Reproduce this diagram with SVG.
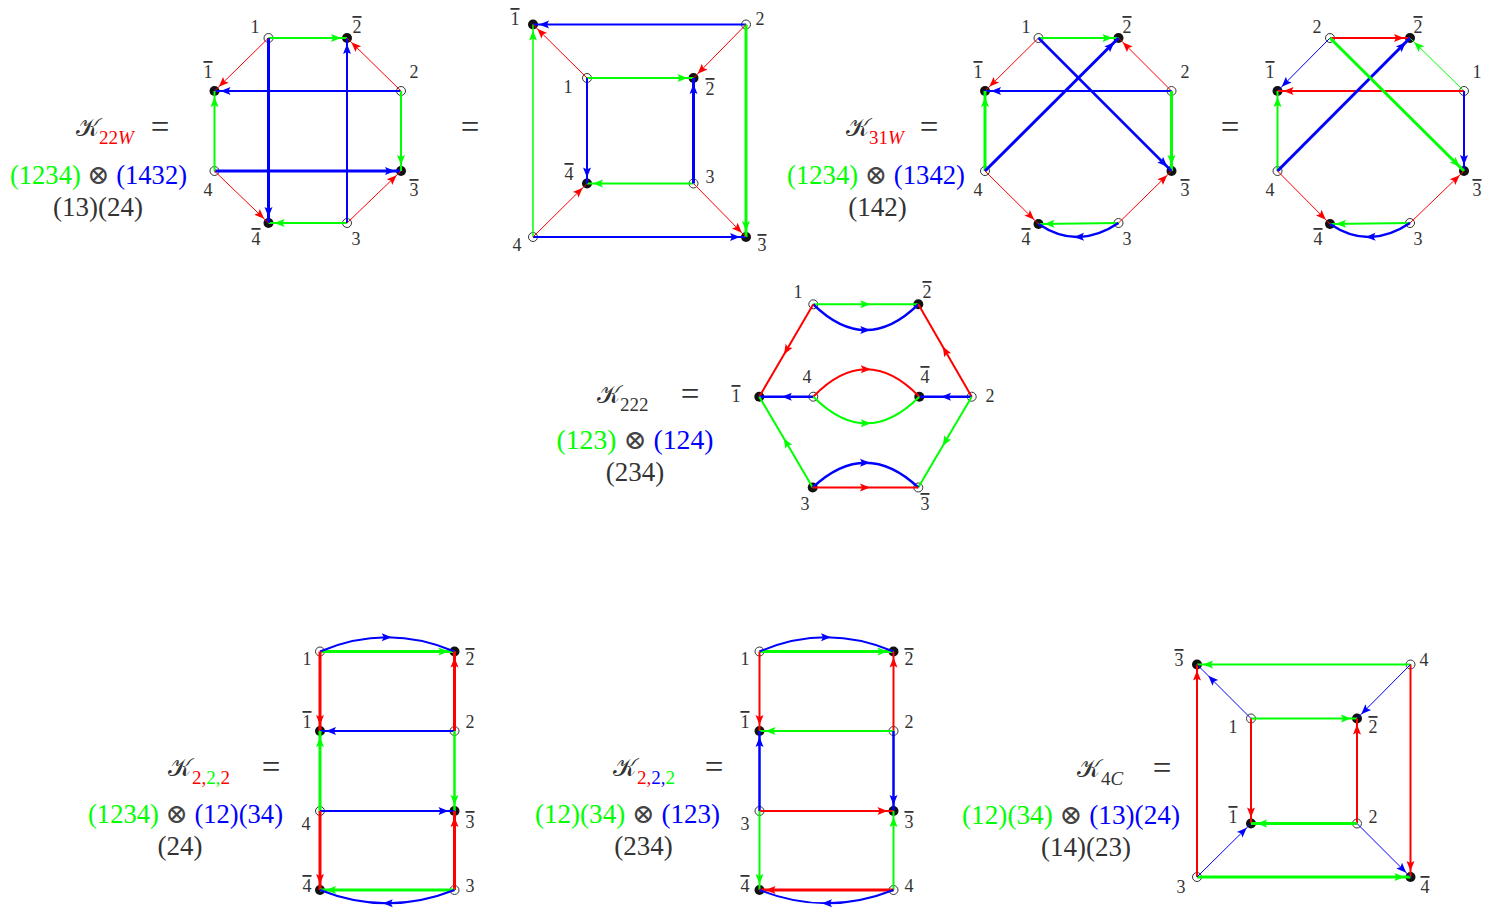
<svg xmlns="http://www.w3.org/2000/svg" width="1499" height="909" viewBox="0 0 1499 909">
<style>
.n{font-family:"Liberation Serif","DejaVu Serif",serif;font-size:18px;fill:#333;text-anchor:middle}
.ov{text-decoration:overline}
.t{font-family:"Liberation Serif","DejaVu Serif","DejaVu Sans",serif;font-size:27px;fill:#333}
.k{font-family:"Liberation Serif","DejaVu Serif","DejaVu Sans",serif;font-size:25px;fill:#333}
.eq{font-family:"Liberation Serif","DejaVu Serif",serif;font-size:33px;fill:#333;text-anchor:middle}
.s{font-family:"Liberation Serif","DejaVu Serif",serif;font-size:19px;fill:#333}
.m{text-anchor:middle}
.x{fill:#444}
.o{fill:#fff;stroke:#333;stroke-width:1}
.f{fill:#111}
.r,.g,.b,.re,.ge,.be,.rm,.gm,.bm{fill:none}
.r{stroke:#f00}.g{stroke:#0f0}.b{stroke:#00f}
.re{stroke:#f00;marker-end:url(#er)}.ge{stroke:#0f0;marker-end:url(#ger)}.be{stroke:#00f;marker-end:url(#ber)}
.rm{stroke:#f00;marker-mid:url(#mr)}.gm{stroke:#0f0;marker-mid:url(#mg)}.bm{stroke:#00f;marker-mid:url(#mb)}
.w1{stroke-width:1}.w15{stroke-width:1.5}.w2{stroke-width:2}.w25{stroke-width:2.5}.w3{stroke-width:3}
.cr{fill:#f00}.cg{fill:#0f0}.cb{fill:#00f}
</style>
<defs>
<path id="ah" d="M0,0 L10,4 L0,8 L2,4 Z"/>
<marker id="er" markerUnits="userSpaceOnUse" markerWidth="10" markerHeight="8" refX="16" refY="4" orient="auto" overflow="visible"><use href="#ah" fill="#f00"/></marker>
<marker id="ger" markerUnits="userSpaceOnUse" markerWidth="10" markerHeight="8" refX="16" refY="4" orient="auto" overflow="visible"><use href="#ah" fill="#0f0"/></marker>
<marker id="ber" markerUnits="userSpaceOnUse" markerWidth="10" markerHeight="8" refX="16" refY="4" orient="auto" overflow="visible"><use href="#ah" fill="#00f"/></marker>
<marker id="bfar" markerUnits="userSpaceOnUse" markerWidth="10" markerHeight="8" refX="26" refY="4" orient="auto" overflow="visible"><use href="#ah" fill="#00f"/></marker>
<marker id="mr" markerUnits="userSpaceOnUse" markerWidth="10" markerHeight="8" refX="5.5" refY="4" orient="auto" overflow="visible"><use href="#ah" fill="#f00"/></marker>
<marker id="mg" markerUnits="userSpaceOnUse" markerWidth="10" markerHeight="8" refX="5.5" refY="4" orient="auto" overflow="visible"><use href="#ah" fill="#0f0"/></marker>
<marker id="mb" markerUnits="userSpaceOnUse" markerWidth="10" markerHeight="8" refX="5.5" refY="4" orient="auto" overflow="visible"><use href="#ah" fill="#00f"/></marker>
</defs>
<rect width="1499" height="909" fill="#fff"/>

<!-- ===== Panel 1: K22W ===== -->
<g id="p1-formula">
<text class="k" x="76" y="136">𝒦</text><text class="s" x="99" y="144" style="fill:#f00">22<tspan font-style="italic">W</tspan></text>
<text class="eq" x="160" y="138">=</text>
<text class="t m" x="98.5" y="184" textLength="177" lengthAdjust="spacingAndGlyphs"><tspan class="cg">(1234)</tspan><tspan class="x"> ⊗ </tspan><tspan class="cb">(1432)</tspan></text>
<text class="t m" x="98" y="216">(13)(24)</text>
</g>
<g id="p1-n1"><circle class="o" cx="268.5" cy="38" r="4.5"/><text class="n" x="255" y="33">1</text></g>
<g id="p1-n2b"><circle class="f" cx="347" cy="38" r="5"/><text class="n ov" x="357" y="33">2</text></g>
<g id="p1-n1b"><circle class="f" cx="214.5" cy="91" r="5"/><text class="n ov" x="208" y="78">1</text></g>
<g id="p1-n2"><circle class="o" cx="401" cy="91" r="4.5"/><text class="n" x="414" y="78">2</text></g>
<g id="p1-n4"><circle class="o" cx="214.5" cy="171" r="4.5"/><text class="n" x="208" y="196">4</text></g>
<g id="p1-n3b"><circle class="f" cx="401" cy="171" r="5"/><text class="n ov" x="414" y="196">3</text></g>
<g id="p1-n4b"><circle class="f" cx="268.5" cy="223" r="5"/><text class="n ov" x="256" y="245">4</text></g>
<g id="p1-n3"><circle class="o" cx="347" cy="223" r="4.5"/><text class="n" x="356" y="245">3</text></g>
<g id="p1-edges">
<line class="ge w2" x1="268.5" y1="38" x2="347" y2="38"/>
<line class="be w2" x1="401" y1="91" x2="214.5" y2="91"/>
<line class="be w3" x1="214.5" y1="171" x2="401" y2="171"/>
<line class="ge w2" x1="347" y1="223" x2="268.5" y2="223"/>
<line class="be w3" x1="268.5" y1="38" x2="268.5" y2="223"/>
<line class="be w2" x1="347" y1="223" x2="347" y2="38"/>
<line class="re w1" x1="268.5" y1="38" x2="214.5" y2="91"/>
<line class="re w1" x1="401" y1="91" x2="347" y2="38"/>
<line class="ge w2" x1="401" y1="91" x2="401" y2="171"/>
<line class="ge w2" x1="214.5" y1="171" x2="214.5" y2="91"/>
<line class="re w1" x1="214.5" y1="171" x2="268.5" y2="223"/>
<line class="re w1" x1="347" y1="223" x2="401" y2="171"/>
</g>

<text class="eq" x="470" y="138">=</text>

<!-- ===== Panel 2 ===== -->
<g id="p2-n1b"><circle class="f" cx="533" cy="24.5" r="5"/><text class="n ov" x="515" y="25">1</text></g>
<g id="p2-n2"><circle class="o" cx="746" cy="24.5" r="4.5"/><text class="n" x="760" y="25">2</text></g>
<g id="p2-n1"><circle class="o" cx="587" cy="78" r="4.5"/><text class="n" x="568" y="93">1</text></g>
<g id="p2-n2b"><circle class="f" cx="693.5" cy="78" r="5"/><text class="n ov" x="710" y="95">2</text></g>
<g id="p2-n4b"><circle class="f" cx="587" cy="183.5" r="5"/><text class="n ov" x="569" y="180">4</text></g>
<g id="p2-n3"><circle class="o" cx="693.5" cy="183.5" r="4.5"/><text class="n" x="710" y="183">3</text></g>
<g id="p2-n4"><circle class="o" cx="533" cy="237" r="4.5"/><text class="n" x="517" y="251">4</text></g>
<g id="p2-n3b"><circle class="f" cx="746" cy="237" r="5"/><text class="n ov" x="762" y="251">3</text></g>
<g id="p2-edges">
<line class="be w2" x1="746" y1="24.5" x2="533" y2="24.5"/>
<line class="be w2" x1="533" y1="237" x2="746" y2="237"/>
<line class="ge w15" x1="533" y1="237" x2="533" y2="24.5"/>
<line class="ge w3" x1="746" y1="24.5" x2="746" y2="237"/>
<line class="re w1" x1="587" y1="78" x2="533" y2="24.5"/>
<line class="re w1" x1="746" y1="24.5" x2="693.5" y2="78"/>
<line class="re w1" x1="533" y1="237" x2="587" y2="183.5"/>
<line class="re w1" x1="693.5" y1="183.5" x2="746" y2="237"/>
<line class="ge w2" x1="587" y1="78" x2="693.5" y2="78"/>
<line class="ge w2" x1="693.5" y1="183.5" x2="587" y2="183.5"/>
<line class="be w2" x1="587" y1="78" x2="587" y2="183.5"/>
<line class="be w3" x1="693.5" y1="183.5" x2="693.5" y2="78"/>
</g>

<!-- ===== Panel 3: K31W ===== -->
<g id="p3-formula">
<text class="k" x="846" y="136">𝒦</text><text class="s" x="869" y="144" style="fill:#f00">31<tspan font-style="italic">W</tspan></text>
<text class="eq" x="929" y="138">=</text>
<text class="t m" x="876" y="184" textLength="178" lengthAdjust="spacingAndGlyphs"><tspan class="cg">(1234)</tspan><tspan class="x"> ⊗ </tspan><tspan class="cb">(1342)</tspan></text>
<text class="t m" x="877.5" y="216">(142)</text>
</g>
<g id="p3-n1"><circle class="o" cx="1038.5" cy="38" r="4.5"/><text class="n" x="1026" y="33">1</text></g>
<g id="p3-n2b"><circle class="f" cx="1118.5" cy="38" r="5"/><text class="n ov" x="1127" y="33">2</text></g>
<g id="p3-n1b"><circle class="f" cx="985" cy="91" r="5"/><text class="n ov" x="978" y="78">1</text></g>
<g id="p3-n2"><circle class="o" cx="1171.5" cy="91" r="4.5"/><text class="n" x="1185" y="78">2</text></g>
<g id="p3-n4"><circle class="o" cx="985" cy="171" r="4.5"/><text class="n" x="978" y="196">4</text></g>
<g id="p3-n3b"><circle class="f" cx="1171.5" cy="171" r="5"/><text class="n ov" x="1185" y="196">3</text></g>
<g id="p3-n4b"><circle class="f" cx="1038.5" cy="224" r="5"/><text class="n ov" x="1026" y="245">4</text></g>
<g id="p3-n3"><circle class="o" cx="1118.5" cy="223" r="4.5"/><text class="n" x="1127" y="245">3</text></g>
<g id="p3-edges">
<line class="ge w2" x1="1038.5" y1="38" x2="1118.5" y2="38"/>
<line class="re w1" x1="1038.5" y1="38" x2="985" y2="91"/>
<line class="re w1" x1="1171.5" y1="91" x2="1118.5" y2="38"/>
<line class="be w2" x1="1171.5" y1="91" x2="985" y2="91"/>
<line class="ge w3" x1="1171.5" y1="91" x2="1171.5" y2="171"/>
<line class="ge w3" x1="985" y1="171" x2="985" y2="91"/>
<line class="be w3" x1="985" y1="171" x2="1118.5" y2="38"/>
<line class="be w25" x1="1038.5" y1="38" x2="1171.5" y2="171"/>
<line class="re w1" x1="985" y1="171" x2="1038.5" y2="224"/>
<line class="re w1" x1="1118.5" y1="223" x2="1171.5" y2="171"/>
<line class="ge w2" x1="1118.5" y1="223" x2="1038.5" y2="224"/>
<path class="bm w25" d="M1118.5,223 Q1098.5,236.5 1078.5,237 Q1058.5,237.5 1038.5,224"/>
</g>

<text class="eq" x="1230" y="138">=</text>

<!-- ===== Panel 4 ===== -->
<g id="p4-n2"><circle class="o" cx="1330" cy="38" r="4.5"/><text class="n" x="1317" y="33">2</text></g>
<g id="p4-n2b"><circle class="f" cx="1410" cy="38" r="5"/><text class="n ov" x="1418" y="33">2</text></g>
<g id="p4-n1b"><circle class="f" cx="1277.5" cy="91" r="5"/><text class="n ov" x="1270" y="78">1</text></g>
<g id="p4-n1"><circle class="o" cx="1464" cy="91" r="4.5"/><text class="n" x="1477" y="78">1</text></g>
<g id="p4-n4"><circle class="o" cx="1277.5" cy="171" r="4.5"/><text class="n" x="1270" y="196">4</text></g>
<g id="p4-n3b"><circle class="f" cx="1464" cy="171" r="5"/><text class="n ov" x="1477" y="196">3</text></g>
<g id="p4-n4b"><circle class="f" cx="1330" cy="224" r="5"/><text class="n ov" x="1318" y="245">4</text></g>
<g id="p4-n3"><circle class="o" cx="1410" cy="223" r="4.5"/><text class="n" x="1418" y="245">3</text></g>
<g id="p4-edges">
<line class="re w2" x1="1330" y1="38" x2="1410" y2="38"/>
<line class="be w1" x1="1330" y1="38" x2="1277.5" y2="91"/>
<line class="ge w1" x1="1464" y1="91" x2="1410" y2="38"/>
<line class="re w2" x1="1464" y1="91" x2="1277.5" y2="91"/>
<line class="be w2" x1="1464" y1="91" x2="1464" y2="171"/>
<line class="ge w2" x1="1277.5" y1="171" x2="1277.5" y2="91"/>
<line class="be w3" x1="1277.5" y1="171" x2="1410" y2="38"/>
<line class="ge w3" x1="1330" y1="38" x2="1464" y2="171"/>
<line class="re w1" x1="1277.5" y1="171" x2="1330" y2="224"/>
<line class="re w1" x1="1410" y1="223" x2="1464" y2="171"/>
<line class="ge w2" x1="1410" y1="223" x2="1330" y2="224"/>
<path class="bm w25" d="M1410,223 Q1390,236.5 1370,237 Q1350,237.5 1330,224"/>
</g>

<!-- ===== Panel 5: K222 ===== -->
<g id="p5-formula">
<text class="k" x="597" y="403">𝒦</text><text class="s" x="620" y="411">222</text>
<text class="eq" x="690" y="405">=</text>
<text class="t m" x="635" y="449" textLength="157" lengthAdjust="spacingAndGlyphs"><tspan class="cg">(123)</tspan><tspan class="x"> ⊗ </tspan><tspan class="cb">(124)</tspan></text>
<text class="t m" x="635" y="481">(234)</text>
</g>
<g id="p5-n1"><circle class="o" cx="813.3" cy="304.3" r="4.5"/><text class="n" x="798" y="298">1</text></g>
<g id="p5-n2b"><circle class="f" cx="918.3" cy="304.3" r="5"/><text class="n ov" x="927" y="298">2</text></g>
<g id="p5-n1b"><circle class="f" cx="759.3" cy="396.7" r="5"/><text class="n ov" x="736" y="402">1</text></g>
<g id="p5-n4"><circle class="o" cx="813.3" cy="396.7" r="4.5"/><text class="n" x="807" y="383">4</text></g>
<g id="p5-n4b"><circle class="f" cx="919.3" cy="396.7" r="5"/><text class="n ov" x="925" y="383">4</text></g>
<g id="p5-n2"><circle class="o" cx="971.7" cy="396.7" r="4.5"/><text class="n" x="990" y="402">2</text></g>
<g id="p5-n3"><circle class="f" cx="812.7" cy="487.5" r="5"/><text class="n" x="805" y="510">3</text></g>
<g id="p5-n3b"><circle class="o" cx="918.3" cy="487.5" r="4.5"/><text class="n ov" x="925" y="510">3</text></g>
<g id="p5-edges">
<path class="gm w2" d="M813.3,304.3 L865.8,304.3 L918.3,304.3"/>
<path class="bm w25" d="M813.3,304.3 Q839.55,330 865.8,330 Q892.05,330 918.3,304.3"/>
<path class="rm w2" d="M813.3,304.3 L786.3,350.5 L759.3,396.7"/>
<path class="rm w2" d="M971.7,396.7 L945,350.5 L918.3,304.3"/>
<path class="bm w25" d="M813.3,396.7 L786.3,396.7 L759.3,396.7"/>
<path class="bm w25" d="M971.7,396.7 L945.5,396.7 L919.3,396.7"/>
<path class="rm w2" d="M813.3,396.7 Q839.8,369.3 866.3,369.3 Q892.8,369.3 919.3,396.7"/>
<path class="gm w2" d="M813.3,396.7 Q839.8,423.3 866.3,423.3 Q892.8,423.3 919.3,396.7"/>
<path class="gm w2" d="M812.7,487.5 L786,442.1 L759.3,396.7"/>
<path class="gm w2" d="M971.7,396.7 L945,442.1 L918.3,487.5"/>
<path class="bm w25" d="M812.7,487.5 Q839.1,462.7 865.5,462.7 Q891.9,462.7 918.3,487.5"/>
<path class="rm w2" d="M812.7,487.5 L865.5,487.5 L918.3,487.5"/>
</g>

<!-- ===== Panel 6: K2,2,2 ===== -->
<g id="p6-formula">
<text class="k" x="168" y="776">𝒦</text><text class="s" x="192" y="784"><tspan class="cr">2,</tspan><tspan class="cg">2,</tspan><tspan class="cr">2</tspan></text>
<text class="eq" x="271" y="778">=</text>
<text class="t m" x="185.5" y="823" textLength="195" lengthAdjust="spacingAndGlyphs"><tspan class="cg">(1234)</tspan><tspan class="x"> ⊗ </tspan><tspan class="cb">(12)(34)</tspan></text>
<text class="t m" x="180" y="855">(24)</text>
</g>
<g id="p6-n1"><circle class="o" cx="320" cy="651.5" r="4.5"/><text class="n" x="307" y="665">1</text></g>
<g id="p6-n2b"><circle class="f" cx="454.5" cy="651.5" r="5"/><text class="n ov" x="470" y="665">2</text></g>
<g id="p6-n1b"><circle class="f" cx="320" cy="731" r="5"/><text class="n ov" x="307" y="728">1</text></g>
<g id="p6-n2"><circle class="o" cx="454.5" cy="731" r="4.5"/><text class="n" x="470" y="728">2</text></g>
<g id="p6-n4"><circle class="o" cx="320" cy="811" r="4.5"/><text class="n" x="306" y="830">4</text></g>
<g id="p6-n3b"><circle class="f" cx="454.5" cy="811" r="5"/><text class="n ov" x="470" y="828">3</text></g>
<g id="p6-n4b"><circle class="f" cx="320" cy="890" r="5"/><text class="n ov" x="307" y="892">4</text></g>
<g id="p6-n3"><circle class="o" cx="454.5" cy="890" r="4.5"/><text class="n" x="470" y="892">3</text></g>
<g id="p6-edges">
<line class="ge w3" x1="320" y1="651.5" x2="454.5" y2="651.5"/>
<path class="bm w2" d="M320,651.5 Q353.6,637.3 387.25,637.3 Q420.9,637.3 454.5,651.5"/>
<line class="re w3" x1="320" y1="651.5" x2="320" y2="731"/>
<line class="re w3" x1="454.5" y1="731" x2="454.5" y2="651.5"/>
<line class="be w2" x1="454.5" y1="731" x2="320" y2="731"/>
<line class="ge w3" x1="320" y1="811" x2="320" y2="731"/>
<line class="ge w25" x1="454.5" y1="731" x2="454.5" y2="811"/>
<line class="be w2" x1="320" y1="811" x2="454.5" y2="811"/>
<line class="re w3" x1="320" y1="811" x2="320" y2="890"/>
<line class="re w3" x1="454.5" y1="890" x2="454.5" y2="811"/>
<line class="ge w3" x1="454.5" y1="890" x2="320" y2="890"/>
<path class="bm w2" d="M454.5,890 Q420.9,903.3 387.25,903.3 Q353.6,903.3 320,890"/>
</g>

<!-- ===== Panel 7: K2,2,2 ===== -->
<g id="p7-formula">
<text class="k" x="613" y="776">𝒦</text><text class="s" x="637" y="784"><tspan class="cr">2,</tspan><tspan class="cb">2,</tspan><tspan class="cg">2</tspan></text>
<text class="eq" x="714" y="778">=</text>
<text class="t m" x="627.5" y="823" textLength="185" lengthAdjust="spacingAndGlyphs"><tspan class="cg">(12)(34)</tspan><tspan class="x"> ⊗ </tspan><tspan class="cb">(123)</tspan></text>
<text class="t m" x="643.5" y="855">(234)</text>
</g>
<g id="p7-n1"><circle class="o" cx="759.5" cy="651.5" r="4.5"/><text class="n" x="745" y="665">1</text></g>
<g id="p7-n2b"><circle class="f" cx="893.5" cy="651.5" r="5"/><text class="n ov" x="909" y="665">2</text></g>
<g id="p7-n1b"><circle class="f" cx="759.5" cy="731" r="5"/><text class="n ov" x="745" y="728">1</text></g>
<g id="p7-n2"><circle class="o" cx="893.5" cy="731" r="4.5"/><text class="n" x="909" y="728">2</text></g>
<g id="p7-n3"><circle class="o" cx="759.5" cy="811" r="4.5"/><text class="n" x="745" y="830">3</text></g>
<g id="p7-n3b"><circle class="f" cx="893.5" cy="811" r="5"/><text class="n ov" x="909" y="828">3</text></g>
<g id="p7-n4b"><circle class="f" cx="759.5" cy="890" r="5"/><text class="n ov" x="745" y="892">4</text></g>
<g id="p7-n4"><circle class="o" cx="893.5" cy="890" r="4.5"/><text class="n" x="909" y="892">4</text></g>
<g id="p7-edges">
<line class="ge w3" x1="759.5" y1="651.5" x2="893.5" y2="651.5"/>
<path class="bm w2" d="M759.5,651.5 Q793,637.3 826.5,637.3 Q860,637.3 893.5,651.5"/>
<line class="re w2" x1="759.5" y1="651.5" x2="759.5" y2="731"/>
<line class="re w2" x1="893.5" y1="731" x2="893.5" y2="651.5"/>
<line class="ge w2" x1="893.5" y1="731" x2="759.5" y2="731"/>
<line class="be w25" x1="759.5" y1="811" x2="759.5" y2="731"/>
<line class="be w25" x1="893.5" y1="731" x2="893.5" y2="811"/>
<line class="re w2" x1="759.5" y1="811" x2="893.5" y2="811"/>
<line class="ge w2" x1="759.5" y1="811" x2="759.5" y2="890"/>
<line class="ge w2" x1="893.5" y1="890" x2="893.5" y2="811"/>
<line class="re w3" x1="893.5" y1="890" x2="759.5" y2="890"/>
<path class="bm w2" d="M893.5,890 Q860,903.3 826.5,903.3 Q793,903.3 759.5,890"/>
</g>

<!-- ===== Panel 8: K4C ===== -->
<g id="p8-formula">
<text class="k" x="1077" y="777">𝒦</text><text class="s" x="1101" y="785">4<tspan font-style="italic">C</tspan></text>
<text class="eq" x="1162" y="779">=</text>
<text class="t m" x="1071" y="824" textLength="218" lengthAdjust="spacingAndGlyphs"><tspan class="cg">(12)(34)</tspan><tspan class="x"> ⊗ </tspan><tspan class="cb">(13)(24)</tspan></text>
<text class="t m" x="1086" y="856">(14)(23)</text>
</g>
<g id="p8-n3b"><circle class="f" cx="1197" cy="664.5" r="5"/><text class="n ov" x="1179" y="666">3</text></g>
<g id="p8-n4"><circle class="o" cx="1410.5" cy="664.5" r="4.5"/><text class="n" x="1424" y="666">4</text></g>
<g id="p8-n1"><circle class="o" cx="1251" cy="718.5" r="4.5"/><text class="n" x="1233" y="733">1</text></g>
<g id="p8-n2b"><circle class="f" cx="1357" cy="718.5" r="5"/><text class="n ov" x="1373" y="733">2</text></g>
<g id="p8-n1b"><circle class="f" cx="1251" cy="823.5" r="5"/><text class="n ov" x="1233" y="823">1</text></g>
<g id="p8-n2"><circle class="o" cx="1357" cy="823.5" r="4.5"/><text class="n" x="1373" y="823">2</text></g>
<g id="p8-n3"><circle class="o" cx="1197" cy="877" r="4.5"/><text class="n" x="1181" y="893">3</text></g>
<g id="p8-n4b"><circle class="f" cx="1410.5" cy="877" r="5"/><text class="n ov" x="1425" y="893">4</text></g>
<g id="p8-edges">
<line class="ge w2" x1="1410.5" y1="664.5" x2="1197" y2="664.5"/>
<line class="re w2" x1="1197" y1="877" x2="1197" y2="664.5"/>
<line class="re w2" x1="1410.5" y1="664.5" x2="1410.5" y2="877"/>
<line class="ge w3" x1="1197" y1="877" x2="1410.5" y2="877"/>
<line class="b w1" marker-end="url(#bfar)" x1="1251" y1="718.5" x2="1197" y2="664.5"/>
<line class="be w1" x1="1410.5" y1="664.5" x2="1357" y2="718.5"/>
<line class="ge w2" x1="1251" y1="718.5" x2="1357" y2="718.5"/>
<line class="re w2" x1="1251" y1="718.5" x2="1251" y2="823.5"/>
<line class="re w2" x1="1357" y1="823.5" x2="1357" y2="718.5"/>
<line class="ge w3" x1="1357" y1="823.5" x2="1251" y2="823.5"/>
<line class="be w1" x1="1197" y1="877" x2="1251" y2="823.5"/>
<line class="be w1" x1="1357" y1="823.5" x2="1410.5" y2="877"/>
</g>
</svg>
